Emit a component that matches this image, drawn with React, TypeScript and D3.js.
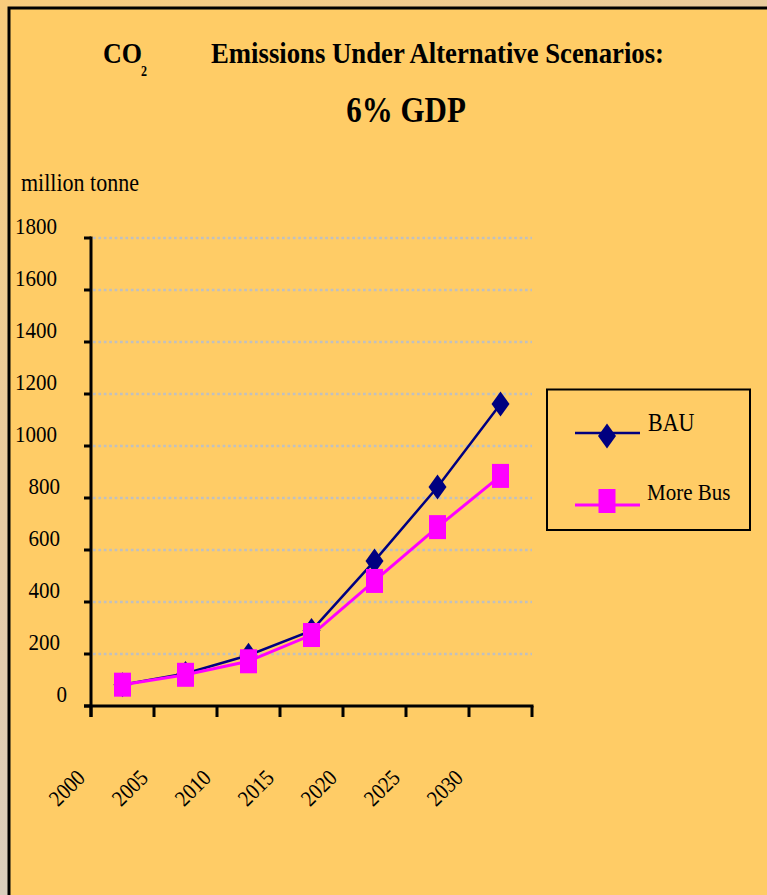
import React from "react";
import * as d3 from "d3";

const years = ["2000", "2005", "2010", "2015", "2020", "2025", "2030"];
const bauValues = [82, 125, 195, 290, 558, 842, 1162];
const busValues = [82, 120, 172, 273, 481, 688, 885];
const yTicks = [0, 200, 400, 600, 800, 1000, 1200, 1400, 1600, 1800];
const seriesNames = ["BAU", "More Bus"];

const W = 767;
const H = 895;
const SY = 1.13;

function T(props: any) {
  const { x, y, rot, children, ...rest } = props;
  const tr = rot
    ? `translate(${x},${y}) rotate(${rot}) scale(1,${SY})`
    : `translate(${x},${y}) scale(1,${SY})`;
  return (
    <g transform={tr}>
      <text x={0} y={0} fill="#000" {...rest}>
        {children}
      </text>
    </g>
  );
}

export default function App() {
  const x = d3.scaleBand<string>().domain(years).range([91, 532]).padding(0);
  const y = d3.scaleLinear().domain([0, 1800]).range([706, 238]);
  const cx = (i: number) => (x(years[i]) as number) + x.bandwidth() / 2;

  const line = d3
    .line<number>()
    .x((_, i) => cx(i))
    .y((d) => y(d));

  const boundaries = years.map((yr) => x(yr) as number).concat([x.range()[1]]);

  const font = "'Liberation Serif', 'Times New Roman', serif";

  const diamond = (px: number, py: number) =>
    `M${px},${py - 12.5}L${px + 9},${py}L${px},${py + 12.5}L${px - 9},${py}Z`;

  const yLabelX = (t: number) => {
    const s = String(t);
    return s.length === 4 ? 57 : s.length === 3 ? 60 : 67;
  };

  return (
    <svg
      width={W}
      height={H}
      style={{ position: "absolute", left: 0, top: 0, display: "block" }}
      fontFamily={font}
    >
      <defs>
        <linearGradient id="bg" x1="0" y1="0" x2="0.5" y2="1">
          <stop offset="0" stopColor="#F8CC7C" />
          <stop offset="0.5" stopColor="#E6CBA6" />
          <stop offset="1" stopColor="#D2D0CD" />
        </linearGradient>
      </defs>
      <rect x={0} y={0} width={W} height={H} fill="url(#bg)" />
      <rect x={9} y={8} width={W + 20} height={H + 20} fill="#FFCC66" stroke="#000" strokeWidth={3} />

      {/* Title */}
      <T x={103} y={63} fontSize={26} fontWeight="bold">CO</T>
      <T x={141} y={76} fontSize={12} fontWeight="bold">2</T>
      <T x={211} y={63} fontSize={26} fontWeight="bold" textLength={453} lengthAdjust="spacingAndGlyphs">
        Emissions Under Alternative Scenarios:
      </T>
      <T x={406} y={122} fontSize={31} fontWeight="bold" textAnchor="middle">
        6% GDP
      </T>

      {/* unit */}
      <T x={21} y={191} fontSize={22}>million tonne</T>

      {/* gridlines */}
      {yTicks.filter((t) => t > 0).map((t) => (
        <line
          key={"g" + t}
          x1={93}
          x2={532}
          y1={y(t)}
          y2={y(t)}
          stroke="#C0C0C0"
          strokeWidth={2.7}
          strokeDasharray="2.7 2.7"
        />
      ))}

      {/* y axis */}
      <line x1={91} x2={91} y1={y(1800) - 1.5} y2={717} stroke="#000" strokeWidth={3} />
      {yTicks.map((t) => (
        <g key={"yt" + t}>
          <line x1={84} x2={91} y1={y(t)} y2={y(t)} stroke="#000" strokeWidth={3} />
          <T x={yLabelX(t)} y={y(t) - 4} fontSize={21} textAnchor="end">
            {t}
          </T>
        </g>
      ))}

      {/* x axis */}
      <line x1={84} x2={533.5} y1={y(0)} y2={y(0)} stroke="#000" strokeWidth={3} />
      {boundaries.map((b, i) => (
        <line key={"xt" + i} x1={b} x2={b} y1={y(0)} y2={717} stroke="#000" strokeWidth={3} />
      ))}
      {years.map((yr) => {
        const bx = (x(yr) as number) - 24;
        const by = 788;
        return (
          <T
            key={"xl" + yr}
            x={bx}
            y={by}
            rot={-45}
            fontSize={20}
            textAnchor="middle"
            dominantBaseline="central"
          >
            {yr}
          </T>
        );
      })}

      {/* BAU */}
      <path d={line(bauValues) || ""} fill="none" stroke="#000080" strokeWidth={2.5} />
      {bauValues.map((v, i) => (
        <path key={"bd" + i} d={diamond(cx(i), y(v))} fill="#000080" />
      ))}

      {/* More Bus */}
      <path d={line(busValues) || ""} fill="none" stroke="#FF00FF" strokeWidth={3} />
      {busValues.map((v, i) => (
        <rect key={"bs" + i} x={cx(i) - 8.5} y={y(v) - 12} width={17} height={24} fill="#FF00FF" />
      ))}

      {/* Legend */}
      <rect x={547} y={389.5} width={203} height={140.5} fill="none" stroke="#000" strokeWidth={2} />
      <line x1={575} x2={640} y1={433} y2={433} stroke="#000080" strokeWidth={2.5} />
      <path d={diamond(607, 436)} fill="#000080" />
      <T x={648} y={431} fontSize={22}>{seriesNames[0]}</T>
      <line x1={575} x2={640} y1={505} y2={505} stroke="#FF00FF" strokeWidth={3} />
      <rect x={598.5} y={489} width={17} height={24} fill="#FF00FF" />
      <T x={647} y={500} fontSize={21}>{seriesNames[1]}</T>
    </svg>
  );
}
